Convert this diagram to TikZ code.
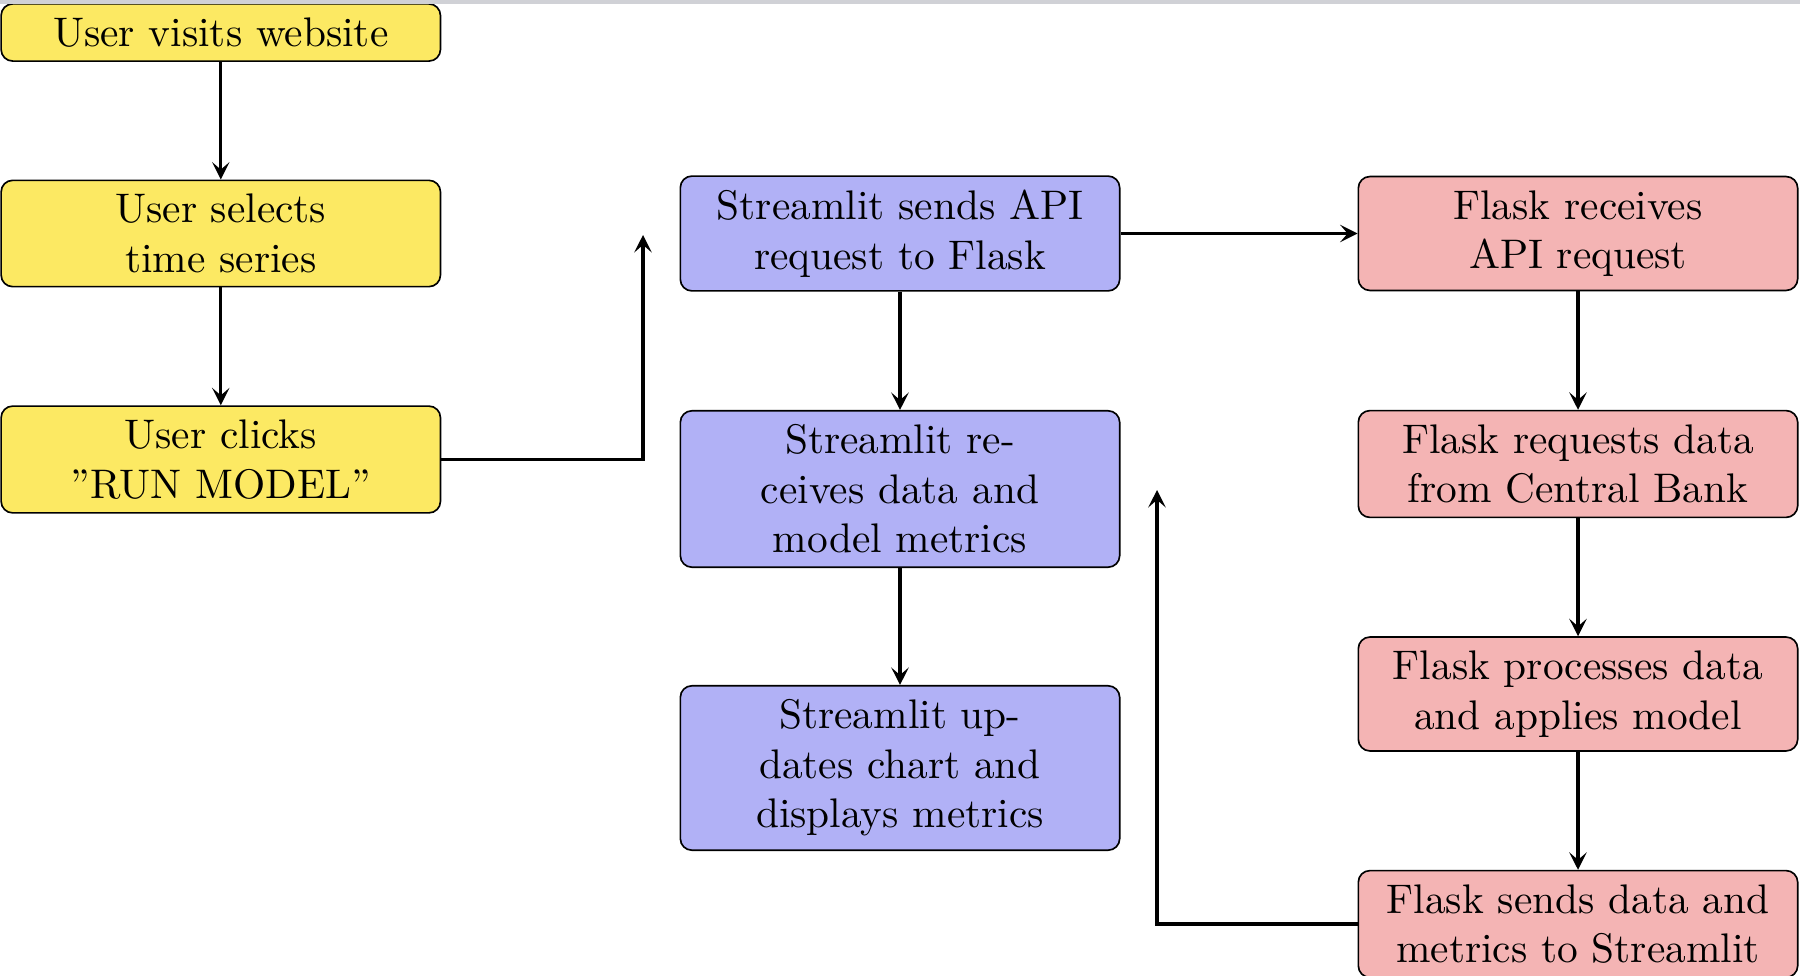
\documentclass[tikz,border=0pt]{standalone}
\usetikzlibrary{arrows.meta}
\definecolor{useryellow}{RGB}{252,233,99}
\definecolor{slblue}{RGB}{177,177,246}
\definecolor{flred}{RGB}{244,180,180}
\definecolor{topband}{RGB}{208,209,214}
\begin{document}
\begin{tikzpicture}[x=0.24184pt,y=-0.24184pt,
  box/.style={draw=black, rounded corners=2.8pt, text width=3.5cm, align=center, line width=0.4pt},
  ubox/.style={box, fill=useryellow},
  sbox/.style={box, fill=slblue},
  fbox/.style={box, fill=flred},
  conn/.style={thick, -{Stealth[length=4.2pt,width=4.2pt,inset=1.8pt]}}]
\useasboundingbox (0,0) rectangle (1800,976);
% user column
\node[ubox] (u1) at (220.8,32.5) {User visits website};
\node[ubox] (u2) at (220.8,233.5) {User selects\\time series};
\node[ubox] (u3) at (220.8,459.5) {User clicks\\''RUN MODEL''};
% streamlit column
\node[sbox] (s1) at (900,233.5) {Streamlit sends API\\request to Flask};
\node[sbox] (s2) at (900,489) {Streamlit re-\\ceives data and\\model metrics};
\node[sbox] (s3) at (900,768) {Streamlit up-\\dates chart and\\displays metrics};
% flask column
\node[fbox] (f1) at (1578,233.5) {Flask receives\\API request};
\node[fbox] (f2) at (1578,464) {Flask requests data\\from Central Bank};
\node[fbox] (f3) at (1578,694) {Flask processes data\\and applies model};
\node[fbox] (f4) at (1578,924) {Flask sends data and\\metrics to Streamlit};
\coordinate (c1) at (643,235);
\coordinate (c2) at (1157,490);
% connectors
\draw[conn] (u1) -- (u2);
\draw[conn] (u2) -- (u3);
\draw[conn] (u3.east) -| (c1);
\draw[conn] (s1.east) -- (f1.west);
\draw[conn] (s1) -- (s2);
\draw[conn] (s2) -- (s3);
\draw[conn] (f1) -- (f2);
\draw[conn] (f2) -- (f3);
\draw[conn] (f3) -- (f4);
\draw[conn] (f4.west) -| (c2);
\fill[topband] (0,0) rectangle (1800,4);
\end{tikzpicture}
\end{document}
